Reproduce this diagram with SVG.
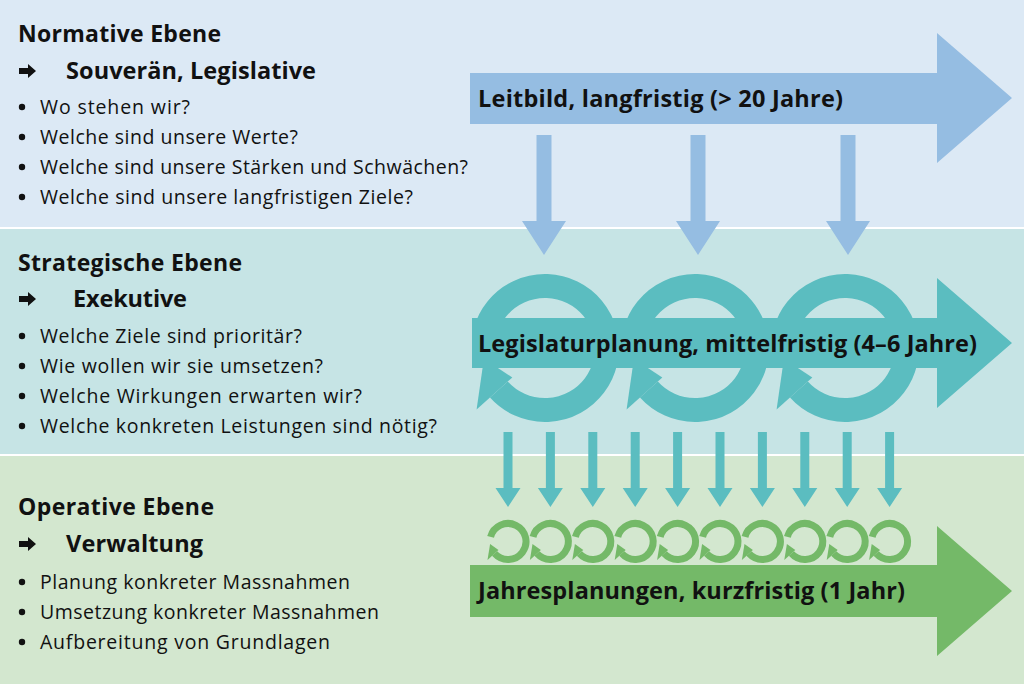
<svg xmlns="http://www.w3.org/2000/svg" xmlns:xlink="http://www.w3.org/1999/xlink" width="1024" height="684" viewBox="0 0 1024 684">
<style>
.h{font-family:"Open Sans","Liberation Sans",sans-serif;font-weight:700;font-size:23px;fill:#111}
.s{font-family:"Open Sans","Liberation Sans",sans-serif;font-weight:700;font-size:23.5px;fill:#111}
.b{font-family:"Open Sans","Liberation Sans",sans-serif;font-weight:400;font-size:19.5px;fill:#111}
.bar{font-family:"Open Sans","Liberation Sans",sans-serif;font-weight:700;font-size:23.5px;fill:#111}
.dot{fill:#111}
.blue{fill:#95bde2}
.teal{fill:#5bbdc0}
.green{fill:#74b968}
</style>
<defs>
<path id="arr" d="M0 -3 H9 V-7 L17 0 L9 7 V3 H0 Z" fill="#111"/>
<circle id="bul" r="3.2"/>
<g id="bigcycle">
<path d="M-59.9 -16 A62 62 0 1 1 -46.1 41.5" fill="none" stroke="#5bbdc0" stroke-width="24"/>
<path d="M-32.7 29.4 L-68.4 61.6 L-61.1 10.8 Z" fill="#5bbdc0"/>
</g>
<g id="smallcycle">
<path d="M-17.4 -4.7 A18 18 0 1 1 -13.4 12" fill="none" stroke="#74b968" stroke-width="7"/>
<path d="M-9.5 8.6 L-20.5 18.5 L-17.9 2.6 Z" fill="#74b968"/>
</g>
<path id="downBig" d="M-7.5 0 H7.5 V86 H22 L0 120 L-22 86 H-7.5 Z"/>
<path id="downSmall" d="M-4.5 0 H4.5 V56 H12.5 L0 75 L-12.5 56 H-4.5 Z"/>
</defs>

<g id="band-normative">
<rect x="0" y="0" width="1024" height="227" fill="#dce9f5"/>
<text class="h" x="18" y="42" textLength="203">Normative Ebene</text>
<use xlink:href="#arr" x="19" y="71"/>
<text class="s" x="66" y="79" textLength="250">Souverän, Legislative</text>
<use xlink:href="#bul" class="dot" x="22" y="107"/>
<text class="b" x="40" y="114" textLength="150">Wo stehen wir?</text>
<use xlink:href="#bul" class="dot" x="22" y="137"/>
<text class="b" x="40" y="144" textLength="258">Welche sind unsere Werte?</text>
<use xlink:href="#bul" class="dot" x="22" y="167"/>
<text class="b" x="40" y="174" textLength="428">Welche sind unsere Stärken und Schwächen?</text>
<use xlink:href="#bul" class="dot" x="22" y="197"/>
<text class="b" x="40" y="204" textLength="373">Welche sind unsere langfristigen Ziele?</text>
</g>
<rect x="0" y="227" width="1024" height="2" fill="#ffffff"/>
<g id="band-strategic">
<rect x="0" y="229" width="1024" height="225" fill="#c6e4e5"/>
<text class="h" x="18" y="271" textLength="224">Strategische Ebene</text>
<use xlink:href="#arr" x="19" y="299"/>
<text class="s" x="73" y="307" textLength="114">Exekutive</text>
<use xlink:href="#bul" class="dot" x="22" y="336"/>
<text class="b" x="40" y="343" textLength="262">Welche Ziele sind prioritär?</text>
<use xlink:href="#bul" class="dot" x="22" y="366"/>
<text class="b" x="40" y="373" textLength="283">Wie wollen wir sie umsetzen?</text>
<use xlink:href="#bul" class="dot" x="22" y="396"/>
<text class="b" x="40" y="403" textLength="322">Welche Wirkungen erwarten wir?</text>
<use xlink:href="#bul" class="dot" x="22" y="426"/>
<text class="b" x="40" y="433" textLength="397">Welche konkreten Leistungen sind nötig?</text>
</g>
<rect x="0" y="454" width="1024" height="2" fill="#ffffff"/>
<g id="band-operative">
<rect x="0" y="456" width="1024" height="228" fill="#d3e7cf"/>
<text class="h" x="18" y="515" textLength="196">Operative Ebene</text>
<use xlink:href="#arr" x="19" y="544"/>
<text class="s" x="66" y="552" textLength="137">Verwaltung</text>
<use xlink:href="#bul" class="dot" x="22" y="582"/>
<text class="b" x="40" y="589" textLength="310">Planung konkreter Massnahmen</text>
<use xlink:href="#bul" class="dot" x="22" y="612"/>
<text class="b" x="40" y="619" textLength="339">Umsetzung konkreter Massnahmen</text>
<use xlink:href="#bul" class="dot" x="22" y="642"/>
<text class="b" x="40" y="649" textLength="290">Aufbereitung von Grundlagen</text>
</g>

<g id="arrow-leitbild">
<path class="blue" d="M470 73 H937 V33 L1012 98 L937 163 V124 H470 Z"/>
<text class="bar" x="478" y="107" textLength="365">Leitbild, langfristig (&gt; 20 Jahre)</text>
</g>

<g id="cycles-legislatur">
<use xlink:href="#bigcycle" x="545" y="348"/>
<use xlink:href="#bigcycle" x="695" y="348"/>
<use xlink:href="#bigcycle" x="845" y="348"/>
</g>
<g id="arrow-legislatur">
<path class="teal" d="M472 318 H937 V278 L1012 343 L937 408 V368 H472 Z"/>
<text class="bar" x="478" y="352" textLength="499">Legislaturplanung, mittelfristig (4–6 Jahre)</text>
</g>

<g id="cycles-jahres">
<use xlink:href="#smallcycle" x="508" y="541.5"/>
<use xlink:href="#smallcycle" x="550.4" y="541.5"/>
<use xlink:href="#smallcycle" x="592.8" y="541.5"/>
<use xlink:href="#smallcycle" x="635.2" y="541.5"/>
<use xlink:href="#smallcycle" x="677.6" y="541.5"/>
<use xlink:href="#smallcycle" x="720" y="541.5"/>
<use xlink:href="#smallcycle" x="762.4" y="541.5"/>
<use xlink:href="#smallcycle" x="804.8" y="541.5"/>
<use xlink:href="#smallcycle" x="847.2" y="541.5"/>
<use xlink:href="#smallcycle" x="889.6" y="541.5"/>
</g>
<g id="arrow-jahres">
<path class="green" d="M470 565 H937 V526 L1012 591 L937 656 V617 H470 Z"/>
<text class="bar" x="478" y="599" textLength="427">Jahresplanungen, kurzfristig (1 Jahr)</text>
</g>

<g id="connectors">
<use xlink:href="#downBig" class="blue" x="544" y="135"/>
<use xlink:href="#downBig" class="blue" x="698" y="135"/>
<use xlink:href="#downBig" class="blue" x="848" y="135"/>
<use xlink:href="#downSmall" class="teal" x="508" y="432"/>
<use xlink:href="#downSmall" class="teal" x="550.4" y="432"/>
<use xlink:href="#downSmall" class="teal" x="592.8" y="432"/>
<use xlink:href="#downSmall" class="teal" x="635.2" y="432"/>
<use xlink:href="#downSmall" class="teal" x="677.6" y="432"/>
<use xlink:href="#downSmall" class="teal" x="720" y="432"/>
<use xlink:href="#downSmall" class="teal" x="762.4" y="432"/>
<use xlink:href="#downSmall" class="teal" x="804.8" y="432"/>
<use xlink:href="#downSmall" class="teal" x="847.2" y="432"/>
<use xlink:href="#downSmall" class="teal" x="889.6" y="432"/>
</g>
</svg>
